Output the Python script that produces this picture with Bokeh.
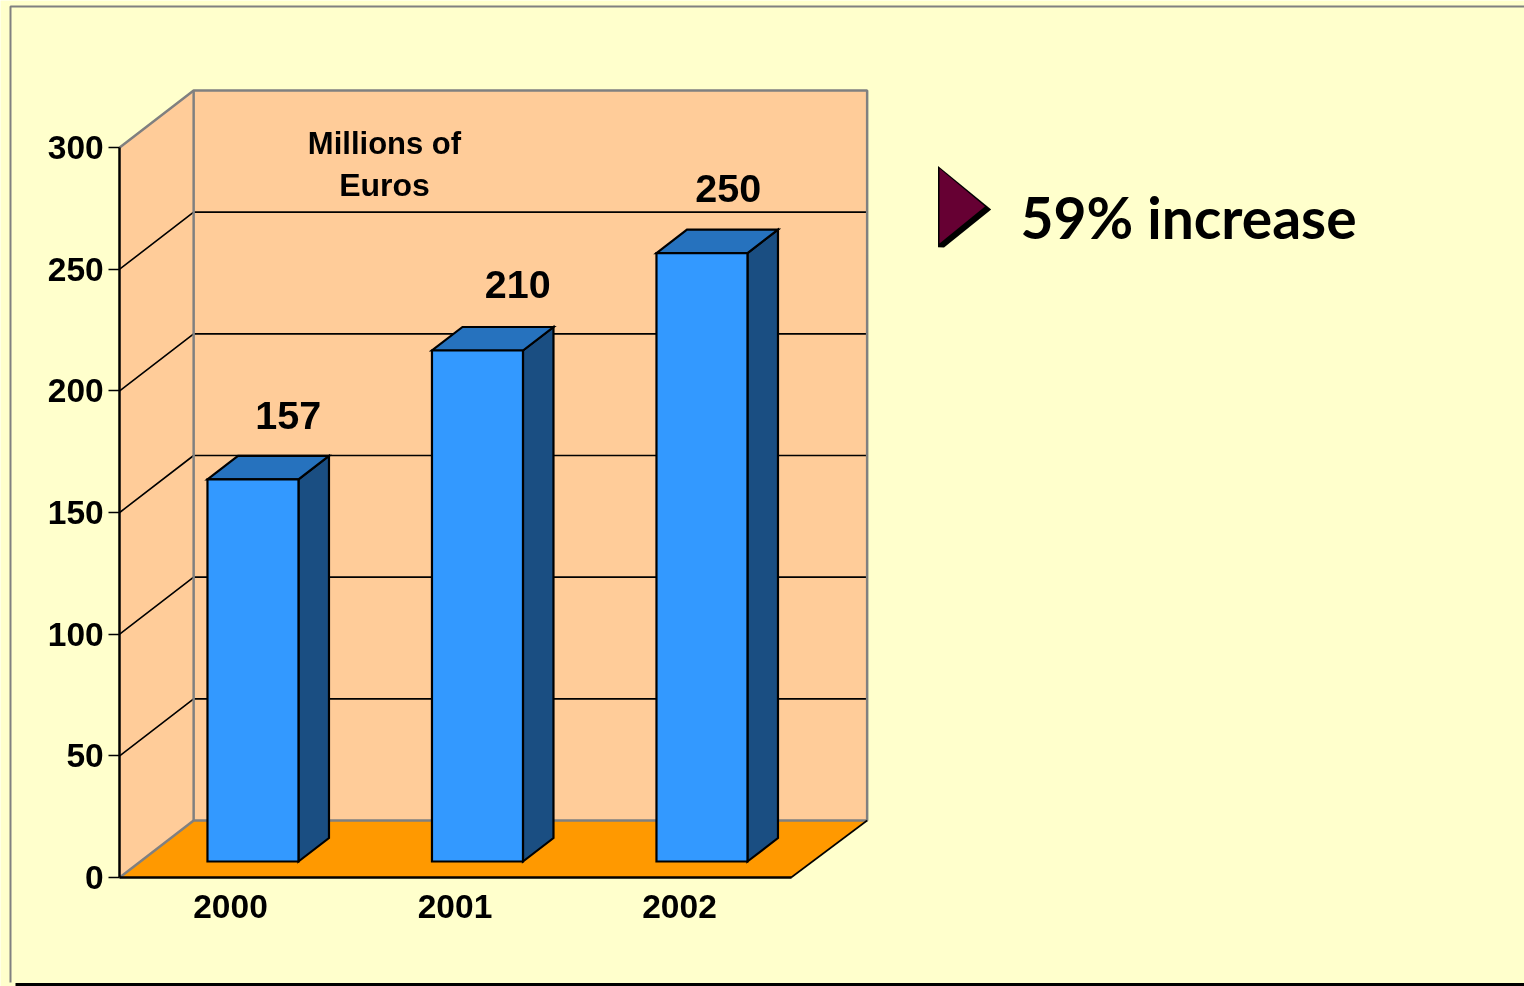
from bokeh.plotting import figure
from bokeh.models import Range1d, FixedTicker
from bokeh.core.properties import value
from bokeh.embed import file_html
from bokeh.resources import INLINE

# ---- data ----
years = ["2000", "2001", "2002"]
revenue = [157, 210, 250]
y_ticks = [0, 50, 100, 150, 200, 250, 300]
callout = "59% increase"
unit_lines = ["Millions of", "Euros"]

# ---- layout ----
W, H = 1524, 986
PX_X0, PX_PER_CAT = 230.0, 224.5       # pixel of category 0, pixels per category
PX_Y0, PX_PER_VAL = 877.0, 730.0 / 300  # pixel of value 0, pixels per value
DEPTH_DX, DEPTH_DY = 74 / PX_PER_CAT, 57 / PX_PER_VAL  # full-depth shift in data units
YMAX = y_ticks[-1]
WALL_OFF = 1.4 / PX_PER_CAT            # tick labels sit slightly left of the plot box centre
BAR_OFF = 1.7 / PX_PER_CAT
C0, C1 = -0.5 + WALL_OFF, len(years) - 0.5 + WALL_OFF
C1_FRONT = C1 - 2 / PX_PER_CAT
BAR_HALF = 45.5 / PX_PER_CAT
BAR_D0, BAR_D1 = 16 / 57, 39.5 / 57

def cx(px): return (px - PX_X0) / PX_PER_CAT
def vy(py): return (PX_Y0 - py) / PX_PER_VAL
def P(c, v, d=0.0): return (c + d * DEPTH_DX, v + d * DEPTH_DY)
def poly(*pts):
    return [p[0] for p in pts], [p[1] for p in pts]

BG = "#FFFFCC"; WALL = "#FFCC99"; FLOOR = "#FF9900"; GREY = "#808080"
FRONT = "#3399FF"; TOP = "#2672BE"; SIDE = "#1A4E82"; MAROON = "#660033"
FONT = value("Liberation Sans")

p = figure(width=W, height=H, x_range=Range1d(cx(0), cx(W)), y_range=Range1d(vy(H), vy(0)),
           output_backend="svg", toolbar_location=None, min_border=0,
           background_fill_color=BG, border_fill_color=BG, outline_line_color=None,
           styles={"position": "fixed", "left": "0", "top": "0"})
p.grid.visible = False

# ---- slide frame ----
p.line([cx(10), cx(10), cx(W)], [vy(982), vy(6), vy(6)], line_color=GREY, line_width=2)
p.quad(left=cx(15), right=cx(W), top=vy(982.5), bottom=vy(H), fill_color="black", line_color=None)

# ---- 3-D walls ----
x, y = poly(P(C0, 0), P(C0, 0, 1), P(C0, YMAX, 1), P(C0, YMAX))
p.patch(x, y, fill_color=WALL, line_color=None)
x, y = poly(P(C0, 0, 1), P(C1, 0, 1), P(C1, YMAX, 1), P(C0, YMAX, 1))
p.patch(x, y, fill_color=WALL, line_color=None)
x, y = poly(P(C0, 0), P(C1_FRONT, 0), P(C1, 0, 1), P(C0, 0, 1))
p.patch(x, y, fill_color=FLOOR, line_color=None)

for t in y_ticks[1:-1]:
    x, y = poly(P(C0, t), P(C0, t, 1), P(C1, t, 1))
    p.line(x, y, line_color="black", line_width=1.6)

x, y = poly(P(C0, 0), P(C0, 0, 1), P(C1, 0, 1), P(C1, YMAX, 1), P(C0, YMAX, 1), P(C0, YMAX))
p.line(x, y, line_color=GREY, line_width=2.5)
x, y = poly(P(C0, 0, 1), P(C0, YMAX, 1))
p.line(x, y, line_color=GREY, line_width=2.5)
x, y = poly(P(C1_FRONT, 0), P(C1, 0, 1))
p.line(x, y, line_color="black", line_width=1.6)

# ---- 3-D bars ----
for i, v in enumerate(revenue):
    l, r = i + BAR_OFF - BAR_HALF, i + BAR_OFF + BAR_HALF
    for pts, col in [
        ((P(r, 0, BAR_D0), P(r, 0, BAR_D1), P(r, v, BAR_D1), P(r, v, BAR_D0)), SIDE),
        ((P(l, v, BAR_D0), P(r, v, BAR_D0), P(r, v, BAR_D1), P(l, v, BAR_D1)), TOP),
        ((P(l, 0, BAR_D0), P(r, 0, BAR_D0), P(r, v, BAR_D0), P(l, v, BAR_D0)), FRONT),
    ]:
        x, y = poly(*pts)
        p.patch(x, y, fill_color=col, line_color="black", line_width=2.2, line_join="miter")

# ---- value labels ----
label_dx = [6.4 / PX_PER_CAT, 11.4 / PX_PER_CAT, -2.6 / PX_PER_CAT]
label_dy = [40 / PX_PER_VAL, 43 / PX_PER_VAL, 41 / PX_PER_VAL]
for i, v in enumerate(revenue):
    x0, y0 = P(i + label_dx[i], v, BAR_D1)
    p.text([x0], [y0 + label_dy[i]], text=[str(v)], text_font=FONT, text_font_style="bold",
           text_font_size="39.5px", text_align="center", text_baseline="middle", text_color="black")

# ---- unit caption ----
for line, py, sz in zip(unit_lines, [143, 184], ["31px", "32px"]):
    p.text([cx(384)], [vy(py)], text=[line], text_font=FONT, text_font_style="bold",
           text_font_size=sz, text_align="center", text_baseline="middle", text_color="black")

# ---- callout ----
x = [cx(v) for v in (937.5, 990.7, 943.5, 937.5)]
y = [vy(v) for v in (165.5, 209, 247, 246.7)]
p.patch(x, y, fill_color="black", line_color=None)
x = [cx(v) for v in (939, 984.5, 939)]
y = [vy(v) for v in (168, 206, 243)]
p.patch(x, y, fill_color=MAROON, line_color=None)
p.text([cx(1020)], [vy(216)], text=[callout], text_font=value("Lato"),
       text_font_style="bold", text_font_size="57px", text_align="left", text_baseline="middle",
       text_color="black")

# ---- axes ----
ya = p.yaxis[0]
ya.fixed_location = C0
ya.bounds = (0, YMAX)
ya.ticker = FixedTicker(ticks=y_ticks)
ya.minor_tick_line_color = None
ya.major_tick_in = 0
ya.major_tick_out = 11
ya.major_tick_line_width = 1.5
ya.axis_line_width = 2.5
ya.major_label_standoff = 5
ya.major_label_text_font = "Liberation Sans"
ya.major_label_text_font_style = "bold"
ya.major_label_text_font_size = "33.5px"
ya.major_label_text_color = "black"

xa = p.xaxis[0]
xa.fixed_location = 0
xa.bounds = (C0, C1_FRONT)
xa.ticker = FixedTicker(ticks=list(range(len(years))))
xa.major_label_overrides = {i: s for i, s in enumerate(years)}
xa.minor_tick_line_color = None
xa.major_tick_line_color = None
xa.major_tick_in = 0
xa.major_tick_out = 0
xa.axis_line_width = 2.5
xa.major_label_standoff = 17
xa.major_label_text_font = "Liberation Sans"
xa.major_label_text_font_style = "bold"
xa.major_label_text_font_size = "33.5px"
xa.major_label_text_color = "black"

open("out.html", "w").write(file_html(p, INLINE))
